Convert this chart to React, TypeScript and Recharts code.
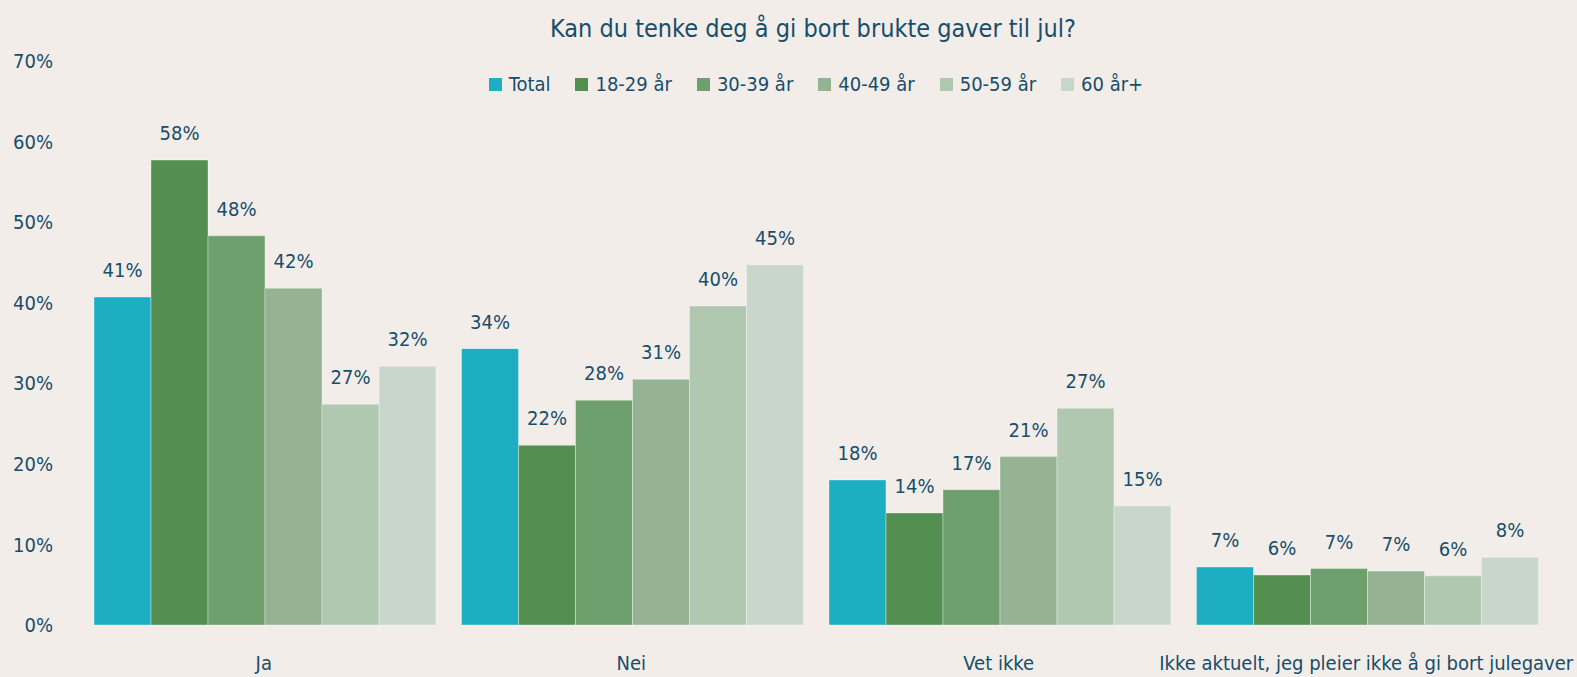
import { BarChart, Bar, XAxis, YAxis, LabelList } from "recharts";

const categories = ["Ja", "Nei", "Vet ikke", "Ikke aktuelt, jeg pleier ikke å gi bort julegaver"];
const total = [40.7, 34.3, 18.0, 7.2];
const age1829 = [57.7, 22.3, 13.9, 6.2];
const age3039 = [48.3, 27.9, 16.8, 7.0];
const age4049 = [41.8, 30.5, 20.9, 6.7];
const age5059 = [27.4, 39.6, 26.9, 6.1];
const age60 = [32.1, 44.7, 14.8, 8.4];
const yTicks = [0, 10, 20, 30, 40, 50, 60, 70];

const SERIES = [
  { key: "total", name: "Total", values: total, color: "#1DAEC1" },
  { key: "a1829", name: "18-29 år", values: age1829, color: "#528F51" },
  { key: "a3039", name: "30-39 år", values: age3039, color: "#6EA06D" },
  { key: "a4049", name: "40-49 år", values: age4049, color: "#95B393" },
  { key: "a5059", name: "50-59 år", values: age5059, color: "#B0C8AF" },
  { key: "a60", name: "60 år+", values: age60, color: "#C9D7CA" },
];

const TEXT = "#174E6A";
const FONT = "'Liberation Sans Narrow', 'DejaVu Sans Condensed', Roboto, sans-serif";

const data = categories.map((c, i) => {
  const row: Record<string, string | number> = { name: c };
  SERIES.forEach((s) => (row[s.key] = s.values[i]));
  return row;
});

export default function App() {
  return (
    <div style={{ width: 1577, height: 677, background: "#F2EDE9", position: "relative", fontFamily: FONT }}>
      <style>{`body{margin:0}`}</style>
      <div
        style={{
          position: "absolute",
          top: 14,
          left: 0,
          width: 1626,
          textAlign: "center",
          color: TEXT,
          fontSize: 25,
        }}
      >
        Kan du tenke deg å gi bort brukte gaver til jul?
      </div>
      <div
        style={{
          position: "absolute",
          top: 72,
          left: 0,
          width: 1632,
          display: "flex",
          justifyContent: "center",
          alignItems: "center",
          gap: 25,
        }}
      >
        {SERIES.map((s) => (
          <div key={s.key} style={{ display: "flex", alignItems: "center", gap: 7 }}>
            <span style={{ width: 13, height: 13, background: s.color, display: "inline-block" }} />
            <span style={{ color: TEXT, fontSize: 20 }}>{s.name}</span>
          </div>
        ))}
      </div>
      <BarChart
        width={1577}
        height={677}
        data={data}
        margin={{ top: 61, right: 27, bottom: 22, left: 20 }}
        barCategoryGap={14}
        barGap={0}
        style={{ position: "absolute", top: 0, left: 0 }}
      >
        <XAxis
          dataKey="name"
          height={30}
          axisLine={false}
          tickLine={false}
          tickSize={0}
          tickMargin={31}
          interval={0}
          tick={{ fill: TEXT, fontSize: 20, fontFamily: FONT }}
        />
        <YAxis
          width={60}
          domain={[0, 70]}
          ticks={yTicks}
          axisLine={false}
          tickLine={false}
          tickSize={0}
          tickMargin={27}
          tickFormatter={(v) => `${v}%`}
          tick={{ fill: TEXT, fontSize: 20, fontFamily: FONT }}
        />
        {SERIES.map((s) => (
          <Bar
            key={s.key}
            dataKey={s.key}
            name={s.name}
            fill={s.color}
            stroke="rgba(255,255,255,0.35)"
            strokeWidth={1}
            isAnimationActive={false}
          >
            <LabelList
              dataKey={s.key}
              position="top"
              offset={20}
              formatter={(v: number) => `${Math.round(v)}%`}
              style={{ fill: TEXT, fontSize: 20, fontFamily: FONT }}
            />
          </Bar>
        ))}
      </BarChart>
    </div>
  );
}
